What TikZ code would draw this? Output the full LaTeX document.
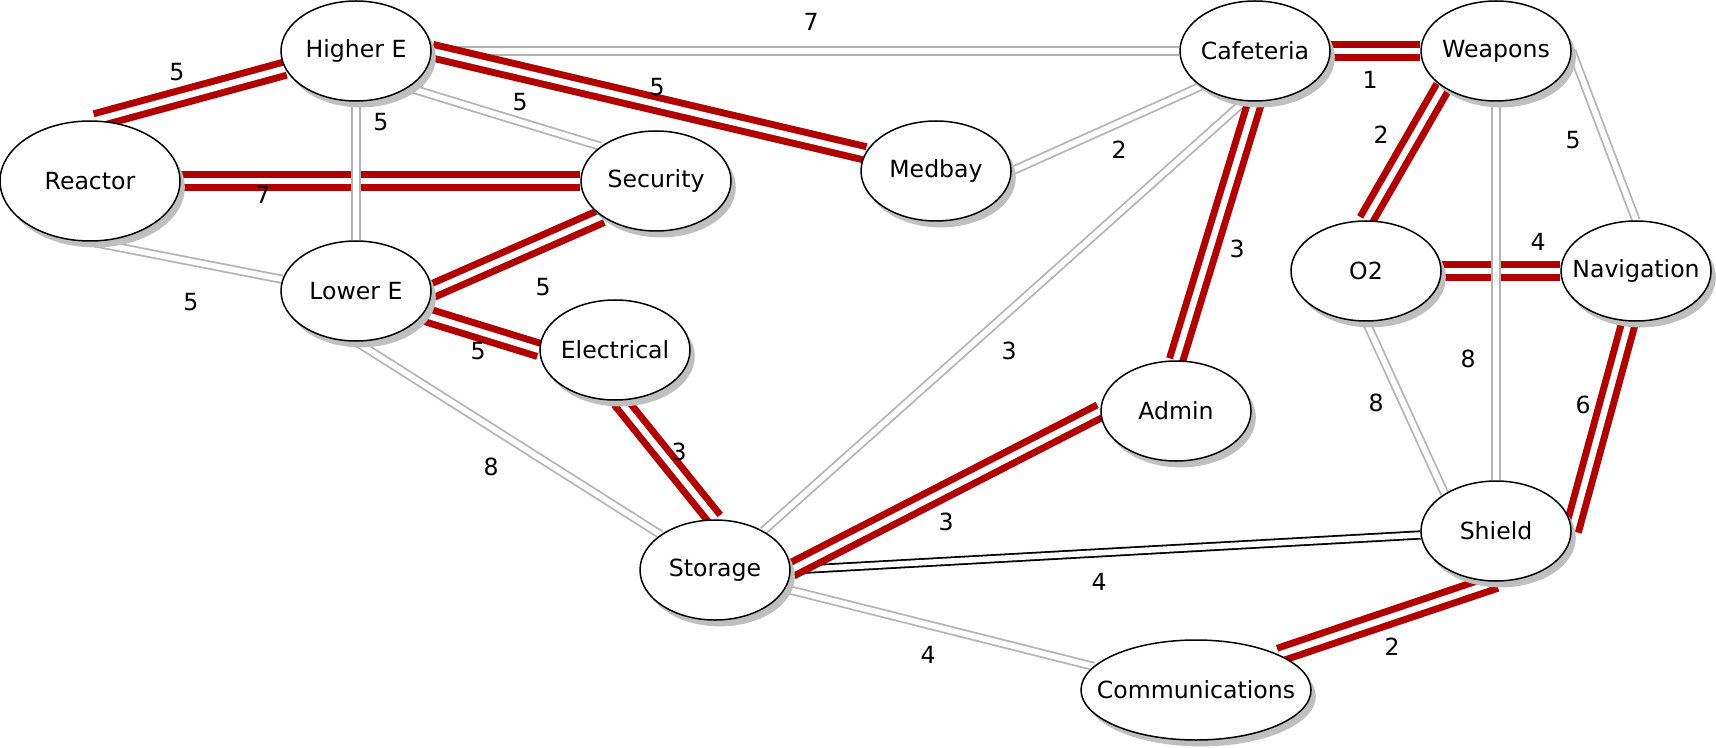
\documentclass[tikz,border=0pt]{standalone}
\usepackage{fontspec}
\setmainfont{DejaVu Sans}
\usepackage{xcolor}
\usepackage{tikz}
\usetikzlibrary{shapes.geometric, shadows, backgrounds}

\definecolor{routered}{RGB}{176,0,0}
\definecolor{hallgray}{RGB}{180,180,180}

\begin{document}
\begin{tikzpicture}[
    x=0.5pt, y=-0.5pt,
    every node/.style={font=\fontsize{11.8}{14}\selectfont},
    room/.style={ellipse, draw, line width=0.75pt, fill=white, minimum width=75pt, minimum height=50pt, inner xsep=-10pt,
        drop shadow={shadow xshift=2.4pt, shadow yshift=-3.2pt, fill=gray!50, opacity=1}},
    bigroom/.style={room, minimum width=90pt, minimum height=60pt},
    wideroom/.style={room, minimum width=115pt},
    wt/.style={inner sep=1pt},
    hall/.style={draw=hallgray, double=white, line width=0.9pt, double distance=2.8pt},
    darkhall/.style={draw=black, double=white, line width=0.9pt, double distance=2.8pt},
    route/.style={draw=routered, double=white, line width=3.5pt, double distance=3.2pt}
]
\useasboundingbox (0,0) rectangle (1716,748);

% Rooms
\node[bigroom] (reactor) at (90,181) {Reactor};
\node[room] (higher) at (356,51) {Higher E};
\node[room] (lower) at (356,291) {Lower E};
\node[room] (security) at (656,181) {Security};
\node[room] (electrical) at (615,350) {Electrical};
\node[room] (medbay) at (936,171) {Medbay};
\node[room] (storage) at (715,570) {Storage};
\node[room] (cafeteria) at (1255,51) {Cafeteria};
\node[room] (admin) at (1176,411) {Admin};
\node[room] (weapons) at (1496,51) {Weapons};
\node[room] (otwo) at (1366,271) {O2};
\node[room] (navigation) at (1636,271) {Navigation};
\node[room] (shield) at (1496,531) {Shield};
\node[wideroom] (comms) at (1196,690) {Communications};

% Corridors
\begin{scope}[on background layer]
\draw[hall] (higher.east) -- (cafeteria.west);
\draw[hall] (higher.325) -- (security.148);
\draw[hall] (reactor.south) -- (lower.171);
\draw[hall] (lower.south) -- (storage.147);
\draw[hall] (medbay.east) -- (cafeteria.213);
\draw[hall] (cafeteria.258) -- (storage.39);
\draw[hall] (weapons.east) -- (navigation.north);
\draw[hall] (otwo.south) -- (shield.144);
\draw[hall] (storage.345) -- (comms.167);
\draw[darkhall] (storage.east) -- (shield.183);

% Shortest route
\draw[route] (reactor.85) -- (higher.194);
\draw[route] (higher.east) -- (medbay.166);
\draw[route] (reactor.east) -- (security.west);
\draw[route] (lower.east) -- (security.213);
\draw[route] (lower.341) -- (electrical.west);
\draw[route] (electrical.275) -- (storage.north);
\draw[route] (storage.east) -- (admin.west);
\draw[route] (cafeteria.south) -- (admin.north);
\draw[route] (cafeteria.east) -- (weapons.west);
\draw[route] (weapons.214) -- (otwo.north);
\draw[route] (otwo.east) -- (navigation.west);
\draw[route] (navigation.262) -- (shield.east);
\draw[route] (shield.south) -- (comms.23);

% crossing on top
\draw[hall] (higher.south) -- (lower.north);
\draw[hall] (weapons.south) -- (shield.north);
\end{scope}

% Weights
\node[wt] (w-reactor-higher) at (177,72) {5};
\node[wt] (w-higher-cafeteria) at (811,22) {7};
\node[wt] (w-higher-medbay) at (657,87) {5};
\node[wt] (w-higher-security) at (520,102) {5};
\node[wt] (w-higher-lower) at (381,122) {5};
\node[wt] (w-reactor-security) at (263,195) {7};
\node[wt] (w-reactor-lower) at (191,302) {5};
\node[wt] (w-lower-security) at (543,287) {5};
\node[wt] (w-lower-electrical) at (478,351) {5};
\node[wt] (w-lower-storage) at (491,467) {8};
\node[wt] (w-electrical-storage) at (679,452) {3};
\node[wt] (w-medbay-cafeteria) at (1119,150) {2};
\node[wt] (w-cafeteria-weapons) at (1370,80) {1};
\node[wt] (w-cafeteria-admin) at (1237,249) {3};
\node[wt] (w-cafeteria-storage) at (1009,351) {3};
\node[wt] (w-weapons-otwo) at (1381,135) {2};
\node[wt] (w-weapons-navigation) at (1573,140) {5};
\node[wt] (w-weapons-shield) at (1468,359) {8};
\node[wt] (w-otwo-navigation) at (1538,242) {4};
\node[wt] (w-otwo-shield) at (1376,403) {8};
\node[wt] (w-navigation-shield) at (1583,405) {6};
\node[wt] (w-storage-admin) at (946,522) {3};
\node[wt] (w-storage-shield) at (1099,582) {4};
\node[wt] (w-storage-comms) at (928,655) {4};
\node[wt] (w-shield-comms) at (1392,647) {2};

\end{tikzpicture}
\end{document}
